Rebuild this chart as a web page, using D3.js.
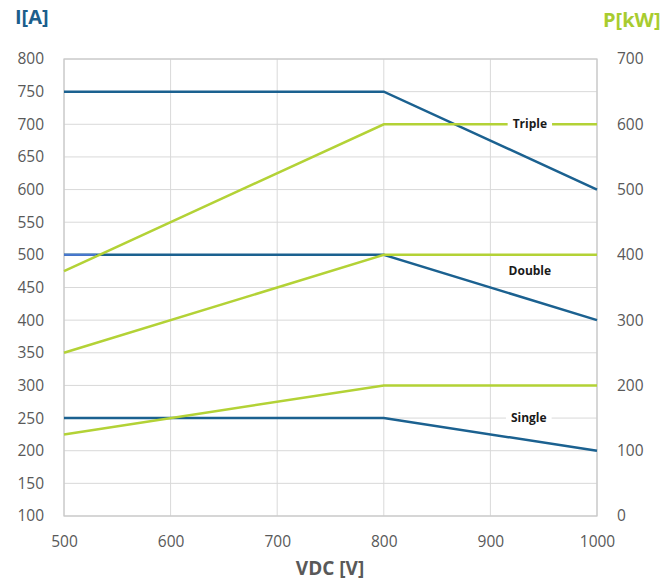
<!DOCTYPE html>
<html>
<head>
<meta charset="utf-8">
<script src="https://cdn.jsdelivr.net/npm/d3@7"></script>
<style>
  body { margin: 0; background: #fff; }
  svg text { font-family: "Open Sans", sans-serif; }
</style>
</head>
<body>
<div class="chart"></div>
<script>
// voltage points
var vdc = [500, 800, 1000];
// current per configuration [A]
var currentSingle = [250, 250, 200];
var currentDouble = [500, 500, 400];
var currentTriple = [750, 750, 600];
// power per configuration [kW]
var powerSingle = [125, 200, 200];
var powerDouble = [250, 400, 400];
var powerTriple = [375, 600, 600];

var xTicks = [500, 600, 700, 800, 900, 1000];
var leftTicks = d3.range(100, 801, 50);
var rightTicks = d3.range(0, 701, 100);

var labels = [
  { name: 'Triple', v: 937, p: 600 },
  { name: 'Double', v: 937, i: 475 },
  { name: 'Single', v: 936, i: 250 }
];

var blue = '#1b6190', green = '#b3d236', grey = '#595959';

var svg = d3.select('.chart').append('svg')
  .attr('width', 672).attr('height', 584);

var x = d3.scaleLinear().domain([500, 1000]).range([64, 597]);
var yI = d3.scaleLinear().domain([100, 800]).range([516, 59]);
var yP = d3.scaleLinear().domain([0, 700]).range([516, 59]);

// grid
svg.append('g').selectAll('line').data(xTicks).enter().append('line')
  .attr('x1', function(d) { return x(d); }).attr('x2', function(d) { return x(d); })
  .attr('y1', 59).attr('y2', 516)
  .attr('stroke', '#d9d9d9').attr('stroke-width', 1);
svg.append('g').selectAll('line').data(leftTicks).enter().append('line')
  .attr('x1', 64).attr('x2', 597)
  .attr('y1', function(d) { return yI(d); }).attr('y2', function(d) { return yI(d); })
  .attr('stroke', '#d9d9d9').attr('stroke-width', 1);
svg.append('rect').attr('x', 64).attr('y', 59).attr('width', 533).attr('height', 457)
  .attr('fill', 'none').attr('stroke', '#c8c8c8').attr('stroke-width', 1.2);

// axes
var axisStyle = function(g) {
  g.select('.domain').remove();
  g.selectAll('.tick line').remove();
  g.selectAll('text').attr('fill', grey).style('font-size', '15.5px')
    .style('font-family', '"Open Sans", sans-serif');
};
svg.append('g').attr('transform', 'translate(0,516)')
  .call(d3.axisBottom(x).tickValues(xTicks).tickFormat(d3.format('d')).tickPadding(14))
  .call(axisStyle);
svg.append('g').attr('transform', 'translate(64,0)')
  .call(d3.axisLeft(yI).tickValues(leftTicks).tickFormat(d3.format('d')).tickPadding(14))
  .call(axisStyle);
svg.append('g').attr('transform', 'translate(597,0)')
  .call(d3.axisRight(yP).tickValues(rightTicks).tickFormat(d3.format('d')).tickPadding(14))
  .call(axisStyle);

// lines
var lineI = d3.line().x(function(d, i) { return x(vdc[i]); }).y(function(d) { return yI(d); });
var lineP = d3.line().x(function(d, i) { return x(vdc[i]); }).y(function(d) { return yP(d); });

[currentSingle, currentDouble, currentTriple].forEach(function(s) {
  svg.append('path').attr('d', lineI(s)).attr('fill', 'none')
    .attr('stroke', blue).attr('stroke-width', 2.5);
});
svg.append('line')
  .attr('x1', x(500)).attr('x2', x(530)).attr('y1', yI(500)).attr('y2', yI(500))
  .attr('stroke', '#4a78d0').attr('stroke-width', 2);
[powerSingle, powerDouble, powerTriple].forEach(function(s) {
  svg.append('path').attr('d', lineP(s)).attr('fill', 'none')
    .attr('stroke', green).attr('stroke-width', 2.5);
});

// series labels
labels.forEach(function(l) {
  var cy = l.p !== undefined ? yP(l.p) : yI(l.i);
  var t = svg.append('text').attr('x', x(l.v)).attr('y', cy).attr('dy', '0.35em')
    .attr('text-anchor', 'middle').attr('fill', '#1a1a1a')
    .style('font-size', '12px').style('font-weight', 'bold').text(l.name);
  var b = t.node().getBBox();
  svg.insert('rect', function() { return t.node(); })
    .attr('x', b.x - 5).attr('y', b.y).attr('width', b.width + 10).attr('height', b.height)
    .attr('fill', '#fff');
});

// titles
svg.append('text').attr('x', 15).attr('y', 24).attr('fill', '#1b5e8c')
  .style('font-size', '20px').style('font-weight', 'bold').text('I[A]');
svg.append('text').attr('x', 603).attr('y', 27).attr('fill', '#a8cc2f')
  .style('font-size', '20px').style('font-weight', 'bold').text('P[kW]');
svg.append('text').attr('x', 330).attr('y', 575).attr('text-anchor', 'middle').attr('fill', grey)
  .style('font-size', '19px').style('font-weight', 'bold').text('VDC [V]');
</script>
</body>
</html>
